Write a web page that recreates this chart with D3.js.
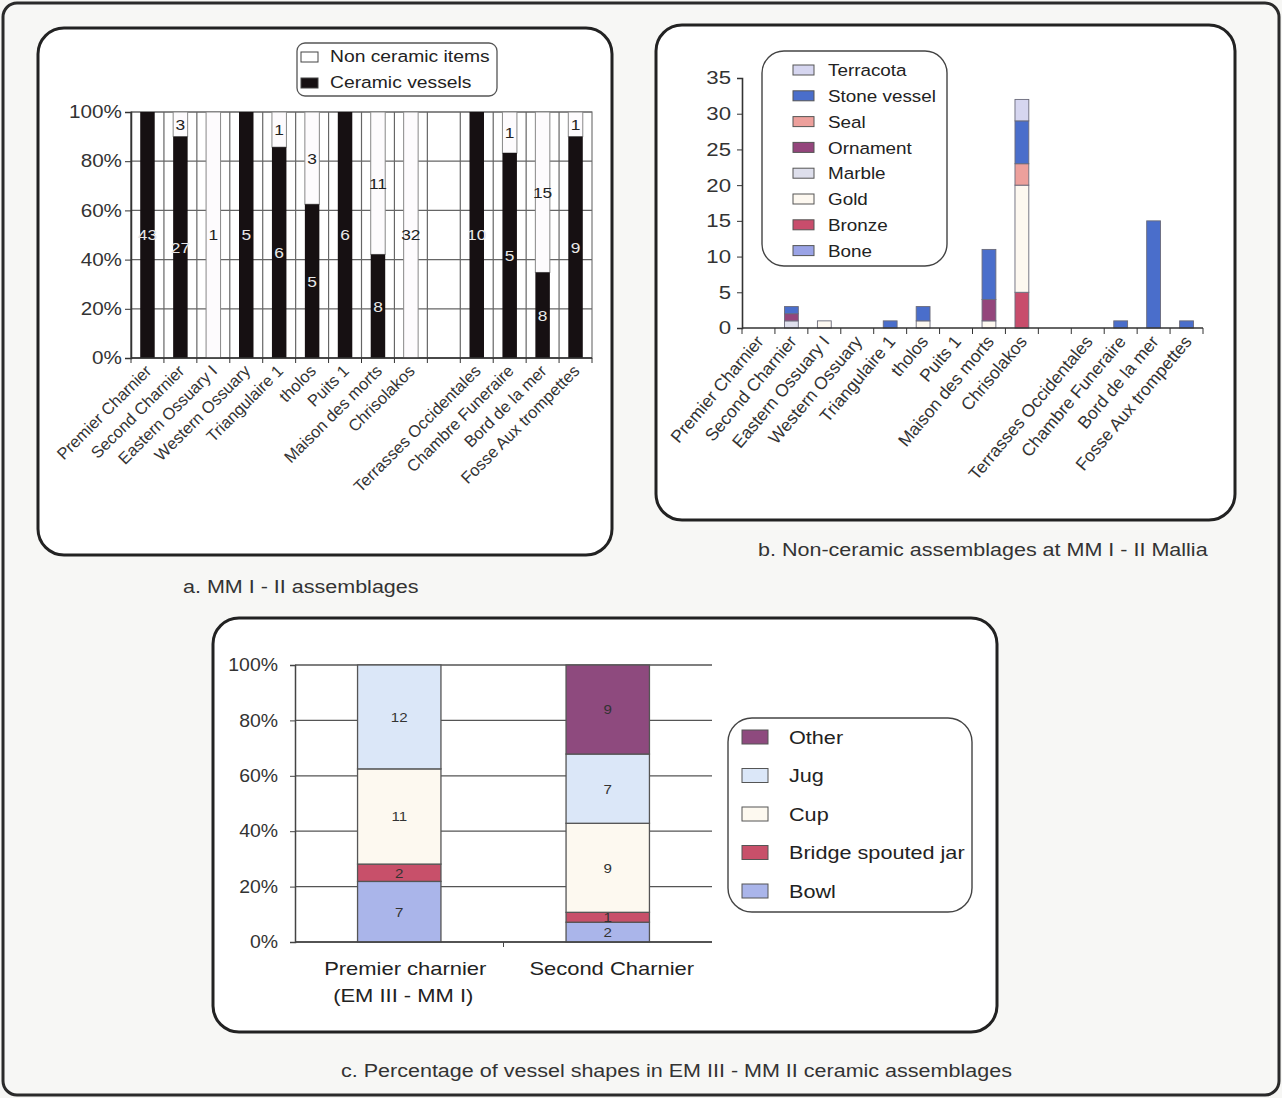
<!DOCTYPE html>
<html><head><meta charset="utf-8">
<script src="https://cdn.jsdelivr.net/npm/d3@7"></script>
<style>
body{margin:0;background:#f6f6f4;}
svg{display:block;font-family:"Liberation Sans",Arial,sans-serif;}
</style></head><body>
<svg id="c" width="1282" height="1098"></svg>
<script>
// ---------- Panel a data ----------
const categories = ["Premier Charnier","Second Charnier","Eastern Ossuary I","Western Ossuary","Triangulaire 1","tholos","Puits 1","Maison des morts","Chrisolakos"," ","Terrasses Occidentales","Chambre Funeraire","Bord de la mer","Fosse Aux trompettes"];
const ceramicVessels = [43,27,0,5,6,5,6,8,0,0,10,5,8,9];
const nonCeramicItems = [0,3,1,0,1,3,0,11,32,0,0,1,15,1];
const pctTicks = [0,0.2,0.4,0.6,0.8,1];

// ---------- Panel b data ----------
const materials = ["Bone","Bronze","Gold","Marble","Ornament","Seal","Stone vessel","Terracota"];
const bone      = [0,0,0,0,0,0,0,0,0,0,0,0,0,0];
const bronze    = [0,0,0,0,0,0,0,0,5,0,0,0,0,0];
const gold      = [0,0,1,0,0,1,0,1,15,0,0,0,0,0];
const marble    = [0,1,0,0,0,0,0,0,0,0,0,0,0,0];
const ornament  = [0,1,0,0,0,0,0,3,0,0,0,0,0,0];
const seal      = [0,0,0,0,0,0,0,0,3,0,0,0,0,0];
const stoneVessel=[0,1,0,0,1,2,0,7,6,0,0,1,15,1];
const terracota = [0,0,0,0,0,0,0,0,3,0,0,0,0,0];
const countTicks = [0,5,10,15,20,25,30,35];

// ---------- Panel c data ----------
const sites = ["Premier charnier|(EM III - MM I)","Second Charnier"];
const shapes = ["Bowl","Bridge spouted jar","Cup","Jug","Other"];
const bowl = [7,2];
const bridgeSpoutedJar = [2,1];
const cup = [11,9];
const jug = [12,7];
const other = [0,9];

const svg = d3.select("#c");
const FONT = '"Liberation Sans",Arial,sans-serif';

// horizontal stretch helper (reference glyphs are wider than Arial)
function stretch(sel, sx){
  sel.each(function(){
    const t=d3.select(this); const x=+(t.attr("x")||0);
    t.attr("x",x/sx).attr("transform",`scale(${sx},1)`);
  });
  return sel;
}

// outer frame
svg.append("rect").attr("x",3).attr("y",3).attr("width",1276).attr("height",1092).attr("rx",14)
  .attr("fill","#f7f7f5").attr("stroke","#2a2a2a").attr("stroke-width",3);

function panel(x,y,w,h){
  svg.append("rect").attr("x",x).attr("y",y).attr("width",w).attr("height",h).attr("rx",26)
    .attr("fill","#ffffff").attr("stroke","#222").attr("stroke-width",3);
}
panel(38,28,574,527);
panel(656,25,579,495);
panel(213,618,784,414);

// captions
const cap = (x,y,t)=>stretch(svg.append("text").attr("x",x).attr("y",y).attr("font-size",17.5).attr("fill","#333").text(t),1.23);
cap(183,593,"a. MM I - II assemblages");
cap(758,556,"b. Non-ceramic assemblages at MM I - II Mallia");
cap(341,1077,"c. Percentage of vessel shapes in EM III - MM II ceramic assemblages");

// ================= Panel a =================
(function(){
  const x0=131,x1=592,yTop=112,yBot=358;
  const x = d3.scaleBand().domain(categories).range([x0,x1]).paddingInner(0).paddingOuter(0);
  const y = d3.scaleLinear().domain([0,1]).range([yBot,yTop]);
  const g = svg.append("g");
  g.append("rect").attr("x",x0).attr("y",yTop).attr("width",x1-x0).attr("height",yBot-yTop).attr("fill","#fff").attr("stroke","#777").attr("stroke-width",1.2);
  g.selectAll(".hg").data(pctTicks).join("line").attr("x1",x0).attr("x2",x1)
    .attr("y1",d=>y(d)).attr("y2",d=>y(d)).attr("stroke","#666").attr("stroke-width",1.2);
  g.selectAll(".vg").data(categories).join("line").attr("x1",d=>x(d)).attr("x2",d=>x(d))
    .attr("y1",yTop).attr("y2",yBot).attr("stroke","#666").attr("stroke-width",1.2);
  const bw = x.bandwidth()*0.44;
  categories.forEach((c,i)=>{
    const tot = ceramicVessels[i]+nonCeramicItems[i];
    if(!tot) return;
    const cx = x(c)+x.bandwidth()/2;
    const pc = ceramicVessels[i]/tot;
    if(nonCeramicItems[i]>0){
      g.append("rect").attr("x",cx-bw/2).attr("y",y(1)).attr("width",bw).attr("height",y(pc)-y(1))
        .attr("fill","#fdfbfd").attr("stroke","#888").attr("stroke-width",1);
      stretch(g.append("text").attr("x",cx).attr("y",y((pc+1)/2)).attr("dy","0.35em").attr("text-anchor","middle")
        .attr("font-size",15.5).attr("fill","#222").text(nonCeramicItems[i]),1.12);
    }
    if(ceramicVessels[i]>0){
      g.append("rect").attr("x",cx-bw/2).attr("y",y(pc)).attr("width",bw).attr("height",y(0)-y(pc))
        .attr("fill","#161012");
      stretch(g.append("text").attr("x",cx).attr("y",y(pc/2)).attr("dy","0.35em").attr("text-anchor","middle")
        .attr("font-size",15.5).attr("fill","#e8e8e8").text(ceramicVessels[i]),1.12);
    }
  });
  const ya = g.append("g").attr("transform",`translate(${x0},0)`)
    .call(d3.axisLeft(y).tickValues(pctTicks).tickFormat(d3.format(".0%")).tickSize(6).tickPadding(3));
  ya.select(".domain").attr("stroke","#333").attr("stroke-width",1.5);
  ya.selectAll("line").attr("stroke","#333");
  stretch(ya.selectAll("text").attr("font-size",18).attr("font-family",FONT).attr("fill","#333"),1.15);
  const xa = g.append("g").attr("transform",`translate(0,${yBot})`);
  xa.append("line").attr("x1",x0).attr("x2",x1).attr("stroke","#333").attr("stroke-width",1.5);
  xa.selectAll(".tk").data(categories.concat(["__end"])).join("line")
    .attr("x1",(d,i)=>x0+i*x.bandwidth()).attr("x2",(d,i)=>x0+i*x.bandwidth()).attr("y1",0).attr("y2",5).attr("stroke","#333");
  xa.selectAll(".lb").data(categories).join("text")
    .attr("transform",d=>`translate(${x(d)+x.bandwidth()/2+5},14) rotate(-45)`)
    .attr("text-anchor","end").attr("font-size",16.5).attr("fill","#333").text(d=>d);
  const lg = svg.append("g");
  lg.append("rect").attr("x",297).attr("y",43).attr("width",200).attr("height",53).attr("rx",8)
    .attr("fill","#fff").attr("stroke","#555").attr("stroke-width",1.3);
  const leg = [["Non ceramic items","#fff"],["Ceramic vessels","#161012"]];
  leg.forEach((d,i)=>{
    lg.append("rect").attr("x",301).attr("y",52+i*26).attr("width",17).attr("height",10).attr("fill",d[1]).attr("stroke","#444");
    stretch(lg.append("text").attr("x",330).attr("y",62+i*26).attr("font-size",16.5).attr("fill","#222").text(d[0]),1.17);
  });
})();

// ================= Panel b =================
(function(){
  const x0=742,x1=1203,yTop=78,yBot=328;
  const x = d3.scaleBand().domain(categories).range([x0,x1]);
  const y = d3.scaleLinear().domain([0,35]).range([yBot,yTop]);
  const colors = {"Bone":"#9aa3e6","Bronze":"#c84d6c","Gold":"#fdf8f0","Marble":"#dedfec","Ornament":"#94457c","Seal":"#eda09c","Stone vessel":"#4a6ecb","Terracota":"#d6d6f0"};
  const seriesVals = [bone,bronze,gold,marble,ornament,seal,stoneVessel,terracota];
  const rows = categories.map((c,i)=>{const r={cat:c}; materials.forEach((m,j)=>r[m]=seriesVals[j][i]); return r;});
  const stack = d3.stack().keys(materials)(rows);
  const g = svg.append("g");
  const bw = x.bandwidth()*0.42;
  stack.forEach(s=>{
    g.selectAll(null).data(s.filter(d=>d[1]-d[0]>0)).join("rect")
      .attr("x",d=>x(d.data.cat)+x.bandwidth()/2-bw/2).attr("y",d=>y(d[1]))
      .attr("width",bw).attr("height",d=>y(d[0])-y(d[1]))
      .attr("fill",colors[s.key]).attr("stroke","#6a6a7a").attr("stroke-width",0.9);
  });
  const ya = g.append("g").attr("transform",`translate(${x0},0)`)
    .call(d3.axisLeft(y).tickValues(countTicks).tickSize(5).tickPadding(6));
  ya.select(".domain").attr("stroke","#333").attr("stroke-width",1.6);
  ya.selectAll("line").attr("stroke","#333");
  stretch(ya.selectAll("text").attr("font-size",18.5).attr("font-family",FONT).attr("fill","#333"),1.2);
  const xa = g.append("g").attr("transform",`translate(0,${yBot})`);
  xa.append("line").attr("x1",x0).attr("x2",x1).attr("stroke","#333").attr("stroke-width",1.6);
  xa.selectAll(".tk").data(categories.concat(["__end"])).join("line")
    .attr("x1",(d,i)=>x0+i*x.bandwidth()).attr("x2",(d,i)=>x0+i*x.bandwidth()).attr("y1",0).attr("y2",6).attr("stroke","#333");
  xa.selectAll(".lb").data(categories).join("text")
    .attr("transform",d=>`translate(${x(d)+x.bandwidth()/2+6},14) rotate(-50)`)
    .attr("text-anchor","end").attr("font-size",17.5).attr("fill","#333").text(d=>d);
  const lg = svg.append("g");
  lg.append("rect").attr("x",762).attr("y",51).attr("width",185).attr("height",215).attr("rx",22)
    .attr("fill","#fff").attr("stroke","#444").attr("stroke-width",1.4);
  materials.slice().reverse().forEach((m,i)=>{
    const yy = 70+i*25.8;
    lg.append("rect").attr("x",793).attr("y",yy-5).attr("width",21).attr("height",10).attr("fill",colors[m]).attr("stroke","#555");
    stretch(lg.append("text").attr("x",828).attr("y",yy).attr("dy","0.36em").attr("font-size",17).attr("fill","#222").text(m),1.11);
  });
})();

// ================= Panel c =================
(function(){
  const x0=295,x1=712,yTop=665,yBot=942;
  const x = d3.scaleBand().domain(sites).range([x0,x1]).paddingInner(0.6).paddingOuter(0.3);
  const xb = d3.scaleBand().domain(sites).range([x0,x1]);
  const y = d3.scaleLinear().domain([0,1]).range([yBot,yTop]);
  const colors = {"Bowl":"#aab5ea","Bridge spouted jar":"#c8506a","Cup":"#fdf9f0","Jug":"#dbe7f8","Other":"#8e4a7e"};
  const vals = [bowl,bridgeSpoutedJar,cup,jug,other];
  const rows = sites.map((s,i)=>{const r={site:s}; let t=0; shapes.forEach((k,j)=>{r[k]=vals[j][i]; t+=vals[j][i];}); r.total=t; return r;});
  const stack = d3.stack().keys(shapes)(rows);
  const g = svg.append("g");
  g.selectAll(".hg").data(pctTicks).join("line").attr("x1",x0).attr("x2",x1)
    .attr("y1",d=>y(d)).attr("y2",d=>y(d)).attr("stroke","#555").attr("stroke-width",1.3);
  stack.forEach(s=>{
    const segs = s.filter(d=>d[1]-d[0]>0);
    g.selectAll(null).data(segs).join("rect")
      .attr("x",d=>x(d.data.site)).attr("y",d=>y(d[1]/d.data.total))
      .attr("width",x.bandwidth()).attr("height",d=>y(d[0]/d.data.total)-y(d[1]/d.data.total))
      .attr("fill",colors[s.key]).attr("stroke","#555").attr("stroke-width",1.3);
    stretch(g.selectAll(null).data(segs).join("text")
      .attr("x",d=>x(d.data.site)+x.bandwidth()/2).attr("y",d=>y((d[0]+d[1])/2/d.data.total)).attr("dy","0.36em")
      .attr("text-anchor","middle").attr("font-size",13.5).attr("fill","#333").text(d=>d[1]-d[0]),1.12);
  });
  const ya = g.append("g").attr("transform",`translate(${x0},0)`)
    .call(d3.axisLeft(y).tickValues(pctTicks).tickFormat(d3.format(".0%")).tickSize(5).tickPadding(12));
  ya.select(".domain").attr("stroke","#444").attr("stroke-width",1.5);
  ya.selectAll("line").attr("stroke","#444");
  stretch(ya.selectAll("text").attr("font-size",18).attr("font-family",FONT).attr("fill","#333"),1.08);
  const xa = g.append("g").attr("transform",`translate(0,${yBot})`);
  xa.append("line").attr("x1",x0).attr("x2",x1).attr("stroke","#444").attr("stroke-width",1.5);
  xa.selectAll(".tk").data([sites[1]]).join("line").attr("x1",d=>xb(d)).attr("x2",d=>xb(d)).attr("y1",0).attr("y2",5).attr("stroke","#444");
  sites.forEach(s=>{
    const lines = s.split("|");
    lines.forEach((l,k)=>{
      stretch(g.append("text").attr("x",x(s)+x.bandwidth()/2+(k===0&&lines.length>1?6:4)).attr("y",yBot+33+k*27)
        .attr("text-anchor","middle").attr("font-size",18).attr("fill","#222").text(l),1.22);
    });
  });
  const lg = svg.append("g");
  lg.append("rect").attr("x",728).attr("y",718).attr("width",244).attr("height",194).attr("rx",24)
    .attr("fill","#fff").attr("stroke","#444").attr("stroke-width",1.4);
  shapes.slice().reverse().forEach((k,i)=>{
    const yy = 737+i*38.5;
    lg.append("rect").attr("x",742).attr("y",yy-7).attr("width",26).attr("height",14).attr("fill",colors[k]).attr("stroke","#555");
    stretch(lg.append("text").attr("x",789).attr("y",yy).attr("dy","0.36em").attr("font-size",18.5).attr("fill","#222").text(k),1.17);
  });
})();
</script></body></html>
